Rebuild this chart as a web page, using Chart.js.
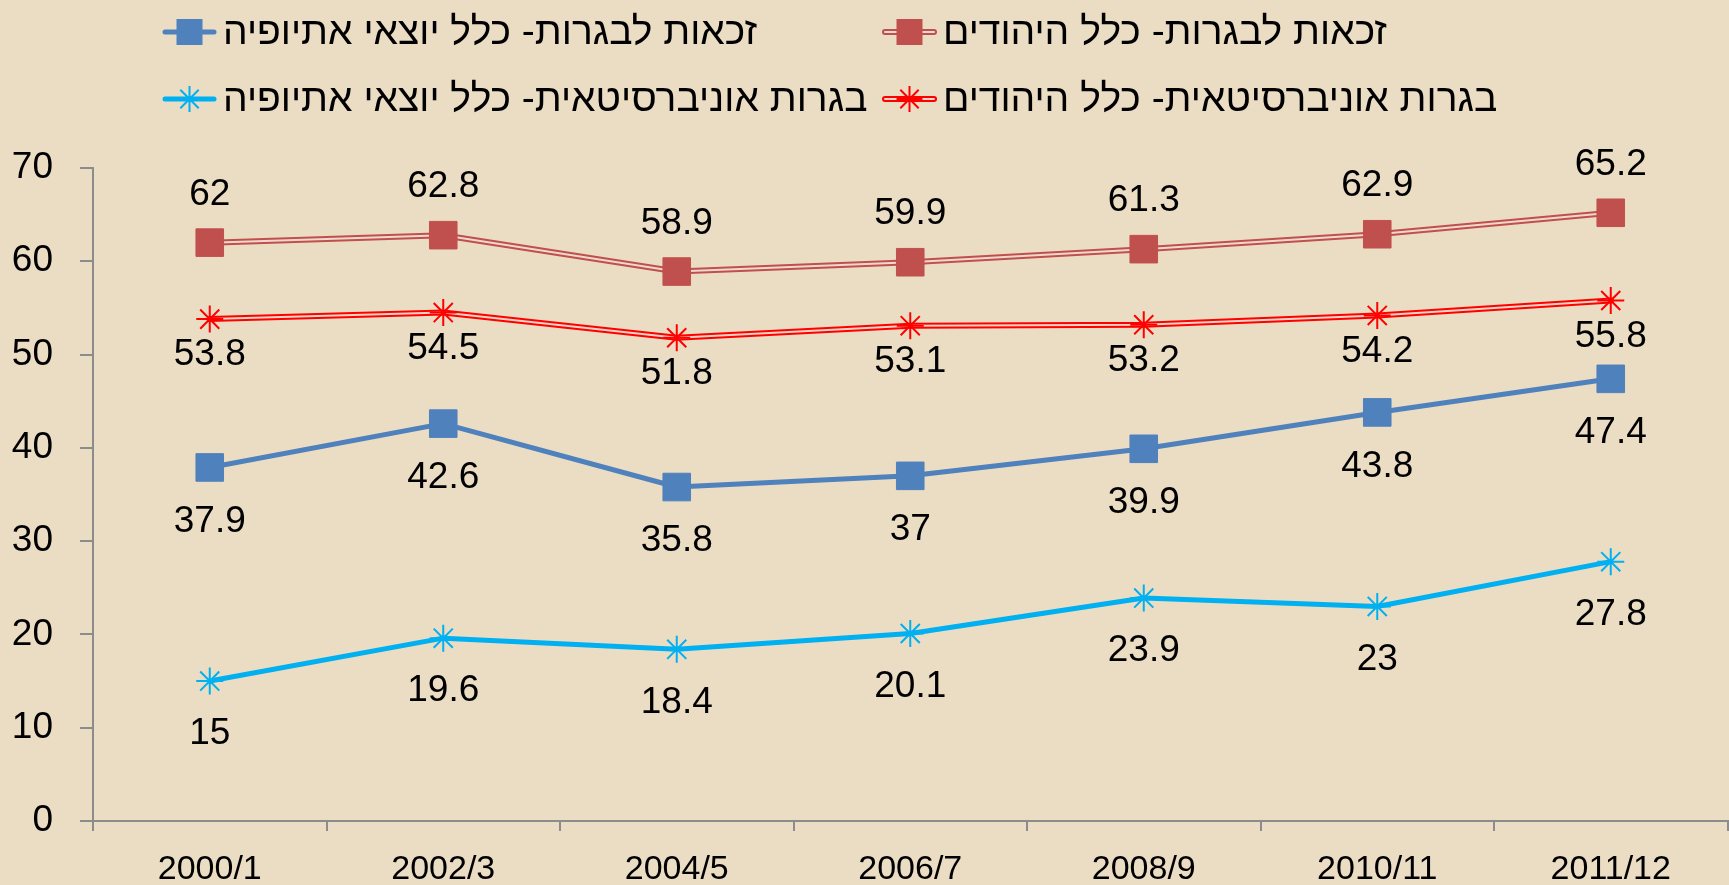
<!DOCTYPE html>
<html>
<head>
<meta charset="utf-8">
<script src="https://cdn.jsdelivr.net/npm/chart.js@4.4.1/dist/chart.umd.min.js"></script>
<style>
  html, body { margin: 0; padding: 0; background: #EBDDC3; overflow: hidden; }
  /* a bit wider than the window: chart.js keeps ~19px on the right for the last label */
  #wrap { width: 1748px; height: 885px; position: relative; }
</style>
</head>
<body>
<div id="wrap"><canvas id="matricChart"></canvas></div>
<script>
// years of the survey
const years = ["2000/1", "2002/3", "2004/5", "2006/7", "2008/9", "2010/11", "2011/12"];

// percentages per series
const eligibleJews = [62, 62.8, 58.9, 59.9, 61.3, 62.9, 65.2];
const eligibleEthiopian = [37.9, 42.6, 35.8, 37, 39.9, 43.8, 47.4];
const universityJews = [53.8, 54.5, 51.8, 53.1, 53.2, 54.2, 55.8];
const universityEthiopian = [15, 19.6, 18.4, 20.1, 23.9, 23, 27.8];

const yTicks = [0, 10, 20, 30, 40, 50, 60, 70];

const FONT = "'Liberation Sans', 'DejaVu Sans', sans-serif";
const AXIS_COLOR = "#8C8C8C";

const series = [
    { name: "זכאות לבגרות- כלל היהודים", data: eligibleJews, color: "#C0504D", inner: "#F0D8CE",
      width: 6, marker: "rect", labelDy: -48, legendRow: 0, legendCol: 1 },
    { name: "זכאות לבגרות- כלל יוצאי אתיופיה", data: eligibleEthiopian, color: "#4F81BD", inner: null,
      width: 5, marker: "rect", labelDy: 54, legendRow: 0, legendCol: 0 },
    { name: "בגרות אוניברסיטאית- כלל היהודים", data: universityJews, color: "#FF0000", inner: "#F4D4C4",
      width: 6, marker: "star", labelDy: 36, legendRow: 1, legendCol: 1 },
    { name: "בגרות אוניברסיטאית- כלל יוצאי אתיופיה", data: universityEthiopian, color: "#00B0F0", inner: null,
      width: 5, marker: "star", labelDy: 53, legendRow: 1, legendCol: 0 }
];

const datasets = [];
series.forEach(s => {
    datasets.push({ data: s.data, borderColor: s.color, borderWidth: s.width, pointRadius: 0,
        fill: false, tension: 0, order: 3, borderCapStyle: "round", borderJoinStyle: "round" });
    if (s.inner) {
        datasets.push({ data: s.data, borderColor: s.inner, borderWidth: 2, pointRadius: 0,
            fill: false, tension: 0, order: 2 });
    }
    const isRect = s.marker === "rect";
    datasets.push({
        label: s.name, data: s.data, showLine: false, order: 1,
        pointStyle: s.marker,
        pointRadius: isRect ? 19.5 : 13.5,
        pointBackgroundColor: s.color,
        pointBorderColor: s.color,
        pointBorderWidth: isRect ? 1 : 2,
        seriesRef: s
    });
});

function drawMarker(ctx, s, x, y, r) {
    ctx.save();
    if (s.marker === "rect") {
        ctx.fillStyle = s.color;
        ctx.fillRect(x - r, y - r, 2 * r, 2 * r);
    } else {
        ctx.strokeStyle = s.color;
        ctx.lineWidth = 2;
        ctx.beginPath();
        for (let k = 0; k < 4; k++) {
            const a = k * Math.PI / 4;
            ctx.moveTo(x - Math.cos(a) * r, y - Math.sin(a) * r);
            ctx.lineTo(x + Math.cos(a) * r, y + Math.sin(a) * r);
        }
        ctx.stroke();
    }
    ctx.restore();
}

const bgPlugin = {
    id: "bg",
    beforeDraw(chart) {
        const ctx = chart.ctx;
        ctx.save();
        ctx.fillStyle = "#EBDDC3";
        ctx.fillRect(0, 0, chart.width, chart.height);
        ctx.restore();
    }
};

// legend drawn by hand: two rows, marker left of the hebrew text
const legendPlugin = {
    id: "handLegend",
    afterDraw(chart) {
        const ctx = chart.ctx;
        const colX = [162, 882];
        const rowY = [32, 99];
        ctx.save();
        ctx.font = "39px " + FONT;
        ctx.fillStyle = "#000";
        ctx.textBaseline = "middle";
        series.forEach(s => {
            const x = colX[s.legendCol];
            const y = rowY[s.legendRow];
            ctx.save();
            ctx.lineCap = "round";
            ctx.strokeStyle = s.color;
            ctx.lineWidth = s.width;
            ctx.beginPath();
            ctx.moveTo(x + 3, y);
            ctx.lineTo(x + 52, y);
            ctx.stroke();
            if (s.inner) {
                ctx.strokeStyle = s.inner;
                ctx.lineWidth = 2;
                ctx.beginPath();
                ctx.moveTo(x + 3, y);
                ctx.lineTo(x + 52, y);
                ctx.stroke();
            }
            ctx.restore();
            drawMarker(ctx, s, x + 27.5, y, 13);
            ctx.direction = "rtl";
            ctx.textAlign = "left";
            ctx.fillText(s.name, x + 61, y + 1);
        });
        ctx.restore();
    }
};

const labelPlugin = {
    id: "valueLabels",
    afterDatasetsDraw(chart) {
        const ctx = chart.ctx;
        ctx.save();
        ctx.font = "37px " + FONT;
        ctx.fillStyle = "#000";
        ctx.textAlign = "center";
        ctx.textBaseline = "middle";
        chart.data.datasets.forEach((ds, i) => {
            if (!ds.seriesRef) return;
            const meta = chart.getDatasetMeta(i);
            meta.data.forEach((pt, j) => {
                ctx.fillText(String(ds.data[j]), pt.x, pt.y + ds.seriesRef.labelDy);
            });
        });
        ctx.restore();
    }
};

const ctx = document.getElementById("matricChart").getContext("2d");
const matricChart = new Chart(ctx, {
    type: "line",
    data: { labels: years, datasets: datasets },
    options: {
        responsive: true,
        maintainAspectRatio: false,
        animation: false,
        layout: { padding: { top: 168, left: 12, right: 1, bottom: 0 } },
        plugins: {
            legend: { display: false },
            tooltip: { enabled: false }
        },
        scales: {
            x: {
                offset: true,
                afterFit: axis => { axis.paddingLeft = 0; axis.paddingRight = 0; axis.height = 64; },
                grid: { offset: true, drawOnChartArea: false, tickLength: 10, color: AXIS_COLOR, lineWidth: 2 },
                border: { color: AXIS_COLOR, width: 2 },
                ticks: { color: "#000", font: { size: 34, family: FONT }, padding: 18, maxRotation: 0 }
            },
            y: {
                min: 0,
                max: 70,
                afterBuildTicks: axis => { axis.ticks = yTicks.map(v => ({ value: v })); },
                afterFit: axis => { axis.width = 81; },
                grid: { drawOnChartArea: false, tickLength: 13, color: AXIS_COLOR, lineWidth: 2 },
                border: { color: AXIS_COLOR, width: 2 },
                ticks: { color: "#000", font: { size: 37, family: FONT }, padding: 27 }
            }
        }
    },
    plugins: [bgPlugin, legendPlugin, labelPlugin]
});
</script>
</body>
</html>
